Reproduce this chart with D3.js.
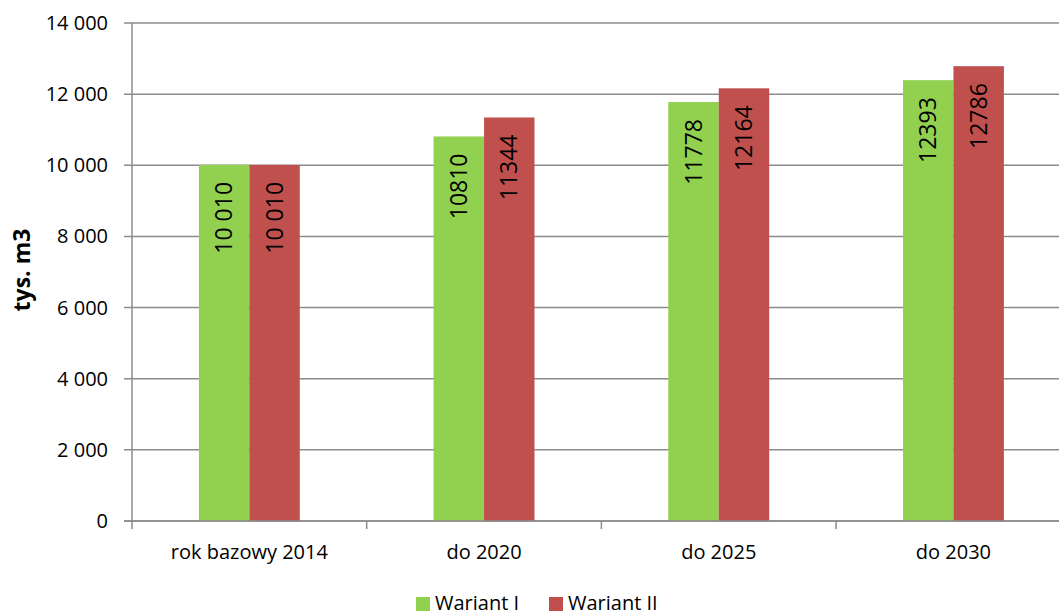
<!DOCTYPE html>
<html>
<head>
<meta charset="utf-8">
<script src="https://cdn.jsdelivr.net/npm/d3@7"></script>
<style>
  body { margin: 0; background: #fff; }
  svg { display: block; font-family: "Open Sans", sans-serif; }
</style>
</head>
<body>
<script>
  //chart data
  var categories = ["rok bazowy 2014", "do 2020", "do 2025", "do 2030"];
  var seriesNames = ["Wariant I", "Wariant II"];
  var wariant1 = [10010, 10810, 11778, 12393];
  var wariant2 = [10010, 11344, 12164, 12786];
  var valueLabels1 = ["10 010", "10810", "11778", "12393"];
  var valueLabels2 = ["10 010", "11344", "12164", "12786"];
  var yTicks = [0, 2000, 4000, 6000, 8000, 10000, 12000, 14000];
  var colors = ["#92d050", "#c0504d"];

  var width = 1059, height = 614;
  var plotLeft = 132, plotTop = 23, plotH = 498, bandW = 234.7;

  var svg = d3.select("body").append("svg")
    .attr("width", width)
    .attr("height", height);

  var x = d3.scaleBand()
    .domain(categories)
    .range([plotLeft, plotLeft + bandW * categories.length])
    .padding(0);

  var x1 = d3.scaleBand()
    .domain(seriesNames)
    .range([bandW * 0.285, bandW * 0.715])
    .padding(0);

  var y = d3.scaleLinear()
    .domain([0, 14000])
    .range([plotTop + plotH, plotTop]);

  var fmt = function(d) { return d3.format(",")(d).replace(/,/g, " "); };

  //gridlines
  svg.append("g").selectAll("line")
    .data(yTicks)
    .enter().append("line")
    .attr("x1", plotLeft - 8)
    .attr("x2", width)
    .attr("y1", function(d) { return y(d); })
    .attr("y2", function(d) { return y(d); })
    .attr("stroke", "#8c8c8c")
    .attr("stroke-width", 1.5);

  //y axis line
  svg.append("line")
    .attr("x1", plotLeft).attr("x2", plotLeft)
    .attr("y1", plotTop).attr("y2", plotTop + plotH)
    .attr("stroke", "#8c8c8c").attr("stroke-width", 1.5);

  //y tick labels
  svg.append("g").selectAll("text")
    .data(yTicks)
    .enter().append("text")
    .attr("x", 108)
    .attr("y", function(d) { return y(d); })
    .attr("dy", "0.35em")
    .attr("text-anchor", "end")
    .attr("font-size", 20)
    .attr("fill", "#000")
    .text(fmt);

  //x category ticks
  var xTickPos = categories.map(function(c) { return x(c); });
  xTickPos.push(plotLeft + bandW * categories.length);
  svg.append("g").selectAll("line")
    .data(xTickPos)
    .enter().append("line")
    .attr("x1", function(d) { return d; })
    .attr("x2", function(d) { return d; })
    .attr("y1", plotTop + plotH)
    .attr("y2", plotTop + plotH + 8)
    .attr("stroke", "#8c8c8c").attr("stroke-width", 1.5);

  //category labels
  svg.append("g").selectAll("text")
    .data(categories)
    .enter().append("text")
    .attr("x", function(d) { return x(d) + bandW / 2; })
    .attr("y", 559)
    .attr("text-anchor", "middle")
    .attr("font-size", 20)
    .text(function(d) { return d; });

  //bars
  var series = [
    { name: seriesNames[0], values: wariant1, labels: valueLabels1, color: colors[0] },
    { name: seriesNames[1], values: wariant2, labels: valueLabels2, color: colors[1] }
  ];

  series.forEach(function(s) {
    var g = svg.append("g");
    g.selectAll("rect")
      .data(categories)
      .enter().append("rect")
      .attr("x", function(d) { return x(d) + x1(s.name); })
      .attr("y", function(d, i) { return y(s.values[i]); })
      .attr("width", x1.bandwidth())
      .attr("height", function(d, i) { return y(0) - y(s.values[i]); })
      .attr("fill", s.color);

    g.selectAll("text")
      .data(categories)
      .enter().append("text")
      .attr("transform", function(d, i) {
        var cx = x(d) + x1(s.name) + x1.bandwidth() / 2;
        var cy = y(s.values[i]) + 17;
        return "translate(" + cx + "," + cy + ") rotate(-90)";
      })
      .attr("dy", "0.35em")
      .attr("text-anchor", "end")
      .attr("font-size", 23)
      .text(function(d, i) { return s.labels[i]; });
  });

  //x axis line
  svg.append("line")
    .attr("x1", plotLeft - 8).attr("x2", width)
    .attr("y1", y(0)).attr("y2", y(0))
    .attr("stroke", "#8c8c8c").attr("stroke-width", 1.5);

  //y axis title
  svg.append("text")
    .attr("transform", "translate(30,270) rotate(-90)")
    .attr("text-anchor", "middle")
    .attr("font-size", 23)
    .attr("font-weight", "bold")
    .text("tys. m3");

  //legend
  var legendX = [416, 549];
  var legend = svg.append("g").selectAll("g")
    .data(series)
    .enter().append("g")
    .attr("transform", function(d, i) { return "translate(" + legendX[i] + ",597)"; });
  legend.append("rect")
    .attr("width", 14).attr("height", 14)
    .attr("fill", function(d) { return d.color; });
  legend.append("text")
    .attr("x", 19)
    .attr("y", 13)
    .attr("font-size", 20)
    .text(function(d) { return d.name; });
</script>
</body>
</html>
